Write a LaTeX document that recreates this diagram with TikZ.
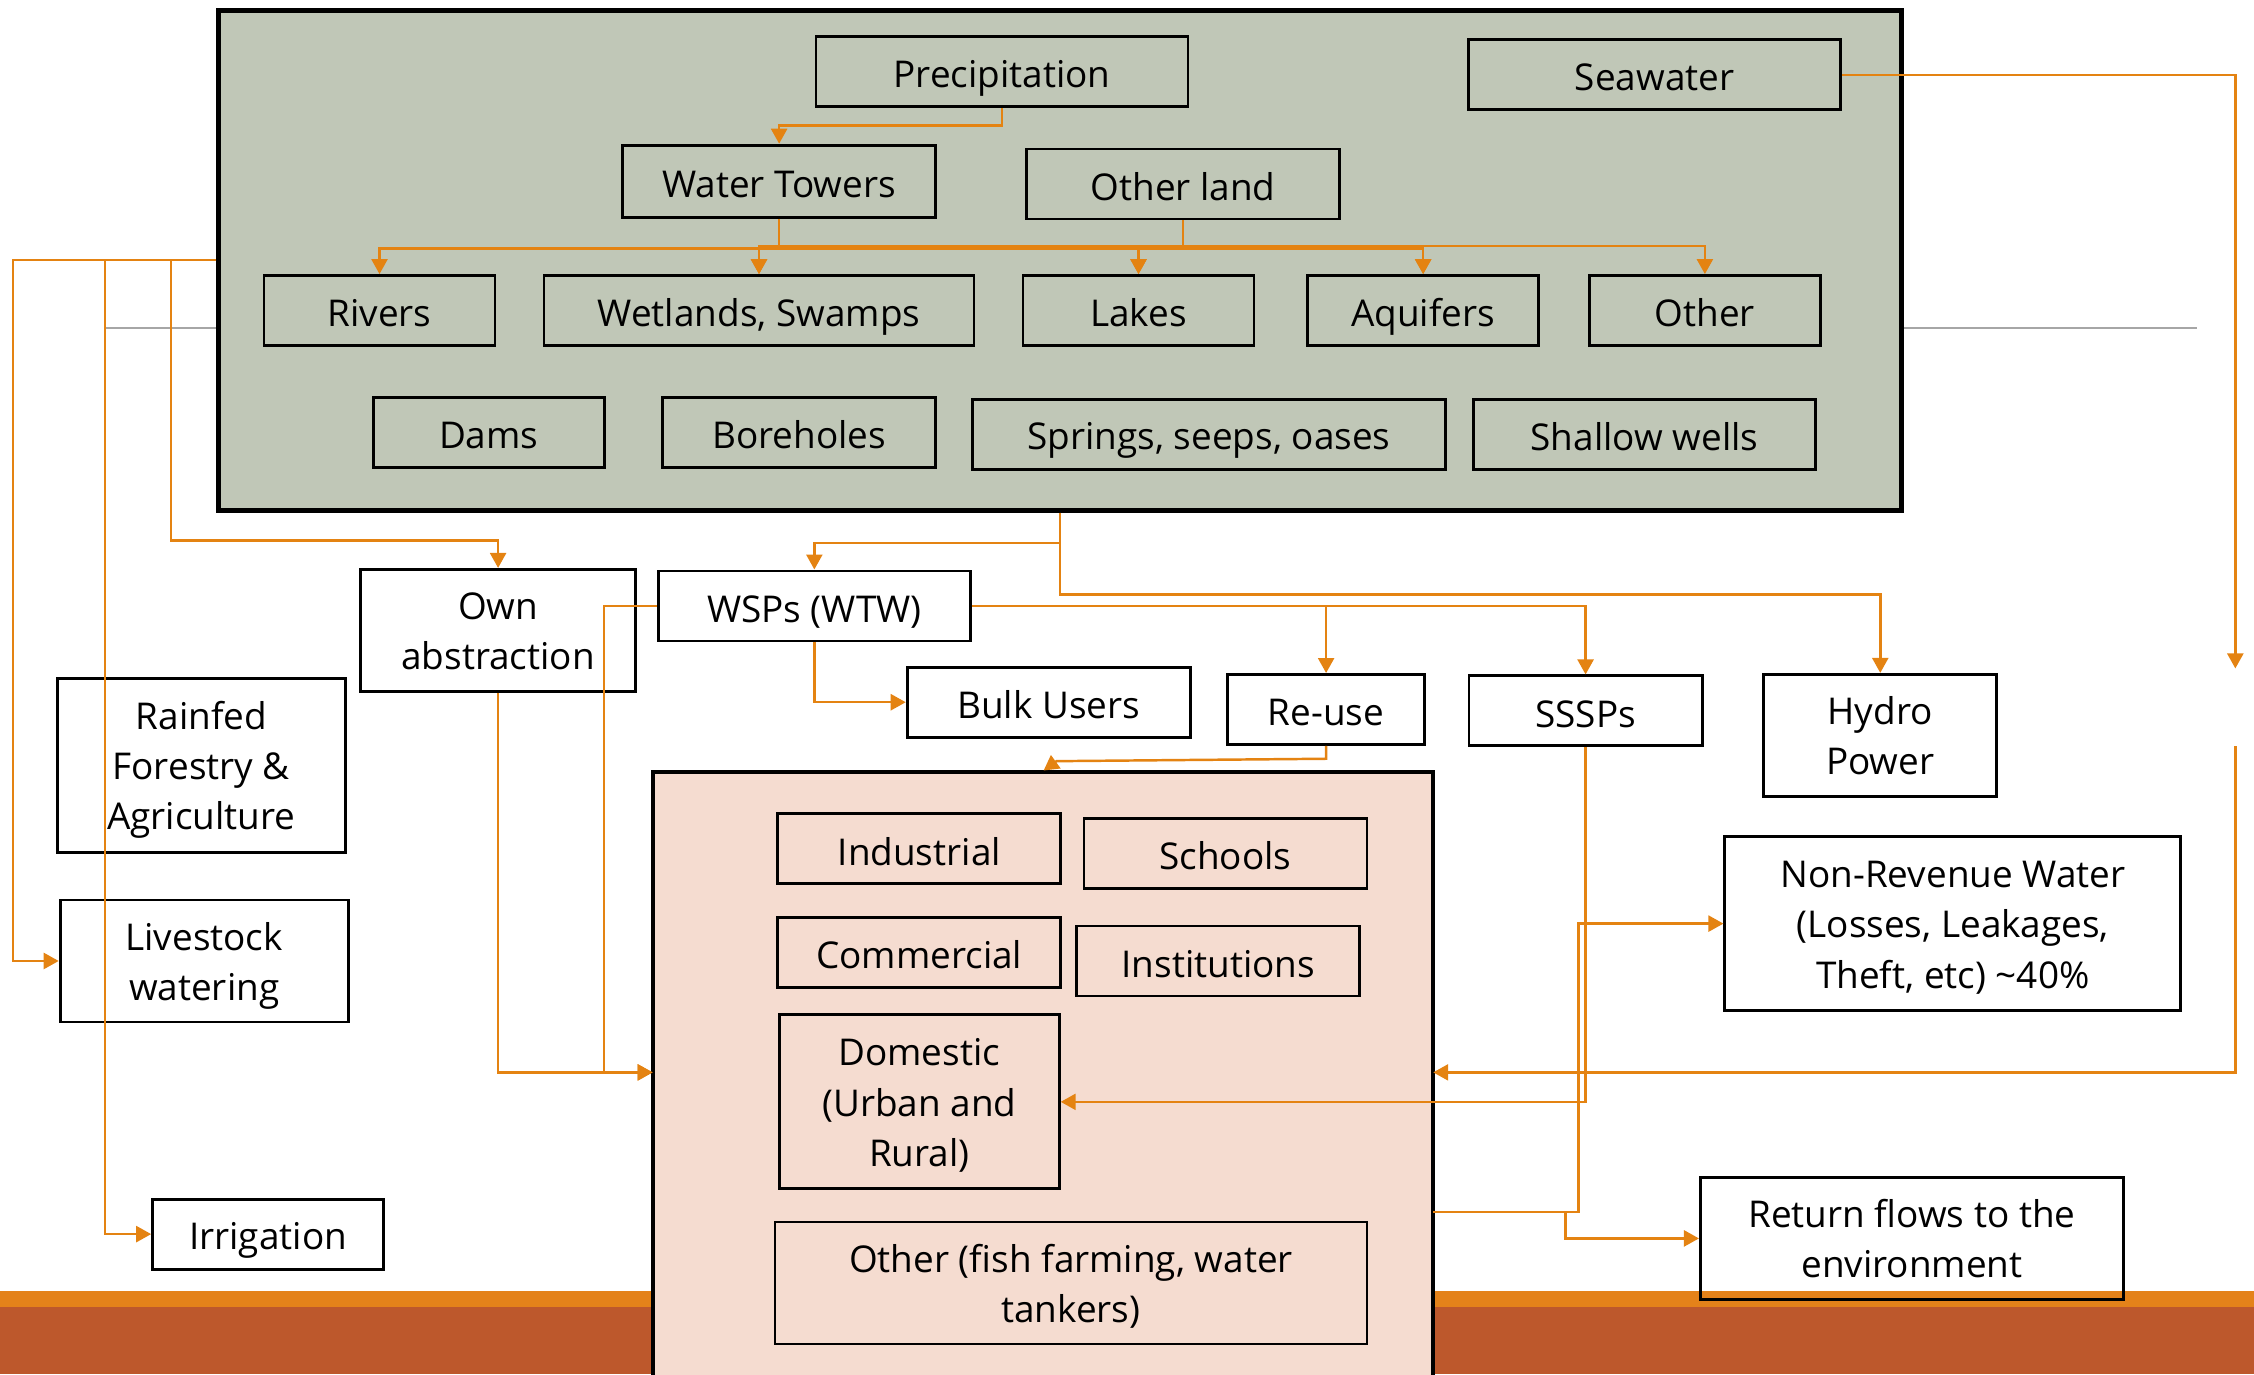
\documentclass[tikz,border=0pt]{standalone}
\usepackage{fontspec}
\setmainfont{Open Sans}
\usepackage{tikz}
\usetikzlibrary{arrows.meta}
\definecolor{Flow}{HTML}{E48312}
\definecolor{SourceFill}{HTML}{C0C7B7}
\definecolor{UseFill}{HTML}{F5DCD0}
\definecolor{Band}{HTML}{E4821A}
\definecolor{BandDark}{HTML}{BD582C}
\definecolor{RuleGray}{HTML}{A6A6A6}

\begin{document}
\begin{tikzpicture}[
	x=0.014375cm, y=-0.014375cm,
	box/.style={draw=black, line width=0.8pt, minimum height=0.70cm,
		inner sep=1pt, align=center,
		font=\fontsize{10.5}{14.3}\selectfont,
		execute at begin node=\rule{0pt}{11.5pt},
		execute at end node=\rule[-2.3pt]{0pt}{0pt}},
	twoline/.style={text height=24.7pt, text depth=2.3pt},
	threeline/.style={text height=39pt, text depth=2.3pt},
	srcbox/.style={box, fill=SourceFill},
	usebox/.style={box, fill=UseFill},
	flow/.style={draw=Flow, line width=0.7pt,
		-{Triangle[length=1.5mm,width=1.6mm]}},
	link/.style={draw=Flow, line width=0.7pt}
	]
	
	\useasboundingbox (0,0) rectangle (1568,956);
	
	% ---------------------------------------------------------
	% BACKGROUND
	% ---------------------------------------------------------
	
	\fill[Band] (0,898) rectangle (1568,909);
	\fill[BandDark] (0,909) rectangle (1568,956);
	\draw[RuleGray, line width=0.5pt] (73,228) -- (1528,228);
	
	% ---------------------------------------------------------
	% WATER SOURCES
	% ---------------------------------------------------------
	
	\node[draw=black, line width=1.4pt, fill=SourceFill,
		minimum width=16.83cm, minimum height=5.00cm]
	(sources) at (737.5,181) {};
	
	\node[srcbox, minimum width=3.72cm] (precip) at (697,50) {Precipitation};
	\node[srcbox, minimum width=3.72cm] (seawater) at (1151,52) {Seawater};
	\node[srcbox, minimum width=3.13cm, minimum height=0.72cm] (wtow) at (542,126) {Water Towers};
	\node[srcbox, minimum width=3.13cm] (otherland) at (823,128) {Other land};
	
	\node[srcbox, minimum width=2.31cm] (rivers) at (264,216) {Rivers};
	\node[srcbox, minimum width=4.30cm] (wetlands) at (528,216) {Wetlands, Swamps};
	\node[srcbox, minimum width=2.31cm] (lakes) at (792,216) {Lakes};
	\node[srcbox, minimum width=2.31cm] (aquifers) at (990,216) {Aquifers};
	\node[srcbox, minimum width=2.31cm] (othersrc) at (1186,216) {Other};
	
	\node[srcbox, minimum width=2.31cm] (dams) at (340,301) {Dams};
	\node[srcbox, minimum width=2.73cm] (boreholes) at (556,301) {Boreholes};
	\node[srcbox, minimum width=4.73cm] (springs) at (841,302) {Springs, seeps, oases};
	\node[srcbox, minimum width=3.42cm] (shallow) at (1144,302) {Shallow wells};
	
	% ---------------------------------------------------------
	% WATER USERS
	% ---------------------------------------------------------
	
	\draw[black, line width=1.2pt, fill=UseFill] (454,970) -- (454,537) -- (997,537) -- (997,970);
	\coordinate (usersL) at (454,746);
	\coordinate (usersR) at (997,746);
	\coordinate (usersE) at (997,843);
	\coordinate (usersT) at (726,536);
	
	\node[usebox, minimum width=2.83cm] (industrial) at (639.5,590.5) {Industrial};
	\node[usebox, minimum width=2.83cm] (schools) at (852.5,593.5) {Schools};
	\node[usebox, minimum width=2.83cm] (commercial) at (639.5,662.5) {Commercial};
	\node[usebox, minimum width=2.83cm] (institutions) at (847.5,668.5) {Institutions};
	\node[usebox, threeline, minimum width=2.80cm, minimum height=1.74cm] (domestic) at (639.5,766.5)
	{Domestic\\(Urban and\\Rural)};
	\node[usebox, twoline, minimum width=5.92cm, minimum height=1.22cm] (otheruse) at (745,892.5)
	{Other (fish farming, water\\tankers)};
	
	% ---------------------------------------------------------
	% SUPPLY AND OTHER USES
	% ---------------------------------------------------------
	
	\node[box, twoline, minimum width=2.75cm, minimum height=1.22cm] (ownab) at (346.5,438.5) {Own\\abstraction};
	\node[box, minimum width=3.12cm] (wsp) at (566.5,421.5) {WSPs (WTW)};
	\node[box, minimum width=2.83cm] (bulk) at (729.5,488.5) {Bulk Users};
	\node[box, minimum width=1.97cm] (reuse) at (922.5,493.5) {Re-use};
	\node[box, minimum width=2.33cm] (sssp) at (1103,494.5) {SSSPs};
	\node[box, twoline, minimum width=2.33cm, minimum height=1.22cm] (hydro) at (1308,511.5) {Hydro\\Power};
	
	\node[box, threeline, minimum width=2.88cm, minimum height=1.74cm] (rainfed) at (140,532.5)
	{Rainfed\\Forestry \&\\Agriculture};
	\node[box, twoline, minimum width=2.88cm, minimum height=1.22cm] (livestock) at (142,668.5) {Livestock\\watering};
	\node[box, minimum width=2.31cm] (irrigation) at (186.5,858.5) {Irrigation};
	
	\node[box, threeline, minimum width=4.56cm, minimum height=1.74cm] (nrw) at (1358.5,642.5)
	{Non-Revenue Water\\(Losses, Leakages,\\Theft, etc) \textasciitilde40\%};
	\node[box, twoline, minimum width=4.23cm, minimum height=1.22cm] (retflow) at (1330,861.5)
	{Return flows to the\\environment};
	
	% ---------------------------------------------------------
	% ARROWS
	% ---------------------------------------------------------
	
	\draw[flow] (precip.south) -- ++(0,12) -| (wtow.north);
	
	\coordinate (wtbus) at (542,173);
	\draw[link] (wtow.south) -- (wtbus);
	\foreach \dest in {rivers,wetlands,lakes,aquifers}
		\draw[flow] (wtbus) -| (\dest.north);
	
	\coordinate (olbus) at (823,171);
	\draw[link] (otherland.south) -- (olbus);
	\foreach \dest in {wetlands,lakes,aquifers,othersrc}
		\draw[flow] (olbus) -| (\dest.north);
	
	\draw[flow] (sources.west) -| (9,668.5) -- (livestock.west);
	\draw[flow] (sources.west) -| (73,858.5) -- (irrigation.west);
	\draw[flow] (sources.west) -| (119,376) -| (ownab.north);
	
	\draw[flow] (sources.south) -- ++(0,21) -| (wsp.north);
	\draw[flow] (sources.south) -- ++(0,57) -| (hydro.north);
	
	\draw[flow] (wsp.east) -| (reuse.north);
	\draw[flow] (wsp.east) -| (sssp.north);
	\draw[flow] (wsp.south) |- (bulk.west);
	\draw[flow] (wsp.west) -- (420,421.5) |- (usersL);
	\draw[flow] (ownab.south) |- (usersL);
	
	\draw[flow] (reuse.south) -- ++(0,9) -- (735,529.5) -- (usersT);
	
	\coordinate (seaA) at (1555,465);
	\coordinate (seaB) at (1555,519);
	\draw[flow] (seawater.east) -| (seaA);
	\draw[flow] (seaB) |- (usersR);
	
	\draw[flow] (sssp.south) |- (domestic.east);
	
	\draw[flow] (usersE) -- (1098,843) |- (nrw.west);
	\draw[flow] (usersE) -- (1089,843) |- (retflow.west);
	
\end{tikzpicture}
\end{document}
